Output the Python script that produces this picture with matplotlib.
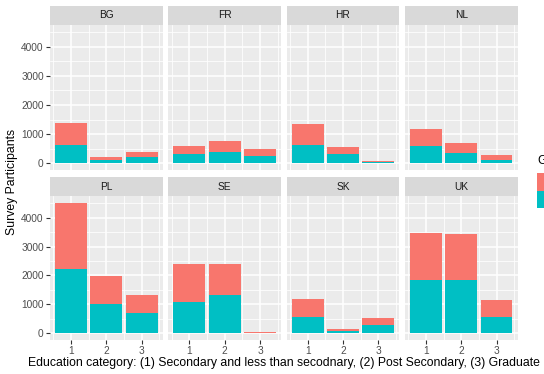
import matplotlib
matplotlib.use("Agg")
import matplotlib.pyplot as plt
from matplotlib.patches import Patch
from matplotlib.ticker import FixedLocator

plt.rcParams["font.family"] = ["Liberation Sans", "DejaVu Sans"]

# Survey participants by country, education category and gender
countries = ["BG", "FR", "HR", "NL", "PL", "SE", "SK", "UK"]
education = [1, 2, 3]
group_labels = ["Female", "Male"]
female = {
    "BG": [750, 92, 185],
    "FR": [265, 392, 243],
    "HR": [701, 242, 34],
    "NL": [563, 322, 173],
    "PL": [2310, 978, 643],
    "SE": [1322, 1069, 35],
    "SK": [621, 69, 253],
    "UK": [1644, 1597, 575],
}
male = {
    "BG": [630, 115, 205],
    "FR": [333, 390, 240],
    "HR": [644, 333, 35],
    "NL": [609, 368, 126],
    "PL": [2207, 1011, 690],
    "SE": [1069, 1333, 11],
    "SK": [563, 80, 276],
    "UK": [1839, 1851, 563],
}
y_ticks = [0, 1000, 2000, 3000, 4000]

COL_F = "#F8766D"
COL_M = "#00BFC4"
PANEL_BG = "#EBEBEB"
STRIP_BG = "#D9D9D9"

W, H = 544, 374
fig = plt.figure(figsize=(W / 100, H / 100), dpi=100)
fig.patch.set_facecolor("white")


def box(left, top, right, bottom):
    return [left / W, 1 - bottom / H, (right - left) / W, (bottom - top) / H]


col_left = [50, 168.3, 286.6, 404.9]
col_w = 112.7
strip_top = [6, 177]
panel_top = [25, 196]
panel_bot = [170, 340]

totals = [f + m for c in countries for f, m in zip(female[c], male[c])]
ymax = max(totals)
ylim = (-0.05 * ymax, 1.05 * ymax)
xlim = (0.55 - 0.05 * 2.9, 3.45 + 0.05 * 2.9)

tick_size = 7.3
title_size = 8.85

for i, c in enumerate(countries):
    r, k = divmod(i, 4)
    l = col_left[k]
    ax = fig.add_axes(box(l, panel_top[r], l + col_w, panel_bot[r]))
    ax.set_facecolor(PANEL_BG)
    for s in ax.spines.values():
        s.set_visible(False)
    ax.set_xlim(*xlim)
    ax.set_ylim(*ylim)
    ax.xaxis.set_major_locator(FixedLocator(education))
    ax.xaxis.set_minor_locator(FixedLocator([0.5, 1.5, 2.5, 3.5]))
    ax.yaxis.set_major_locator(FixedLocator(y_ticks))
    ax.yaxis.set_minor_locator(FixedLocator([500, 1500, 2500, 3500, 4500]))
    ax.grid(which="major", color="white", linewidth=1.1)
    ax.grid(which="minor", color="white", linewidth=0.55)
    ax.set_axisbelow(True)
    ax.tick_params(which="minor", length=0)
    ax.tick_params(which="major", length=3, width=0.8, color="#333333",
                   labelsize=tick_size, labelcolor="#4D4D4D", pad=1.5)
    if k != 0:
        ax.tick_params(axis="y", which="major", length=0, labelleft=False)
    if r == 0:
        ax.tick_params(axis="x", which="major", length=0, labelbottom=False)
    else:
        ax.set_xticklabels([str(e) for e in education])

    ax.bar(education, male[c], width=0.9, color=COL_M, linewidth=0)
    ax.bar(education, female[c], width=0.9, bottom=male[c], color=COL_F,
           linewidth=0)

    sx = fig.add_axes(box(l, strip_top[r], l + col_w, panel_top[r]))
    sx.set_facecolor(STRIP_BG)
    sx.set_xticks([])
    sx.set_yticks([])
    for s in sx.spines.values():
        s.set_visible(False)
    sx.text(0.5, 0.5, c, ha="center", va="center", fontsize=tick_size,
            color="#1A1A1A", transform=sx.transAxes)

fig.text(284 / W, 1 - 363 / H,
         "Education category: (1) Secondary and less than secodnary, "
         "(2) Post Secondary, (3) Graduate",
         ha="center", va="center", fontsize=title_size, color="black")
fig.text(12.5 / W, 1 - 182 / H, "Survey Participants", rotation=90,
         ha="center", va="center", fontsize=title_size, color="black")

handles = [Patch(facecolor=COL_F, edgecolor="none"),
           Patch(facecolor=COL_M, edgecolor="none")]
leg = fig.legend(handles, group_labels, title="Gender", loc="upper left",
                 bbox_to_anchor=(537 / W, 1 - 154.5 / H), frameon=False,
                 fontsize=tick_size, title_fontsize=title_size,
                 handlelength=2.3, handleheight=2.28, labelspacing=0.0,
                 handletextpad=0.5, borderpad=0.0, borderaxespad=0.0)
leg._legend_box.align = "left"
leg._legend_box.sep = 5.0

fig.savefig("out.png", dpi=100, facecolor="white")
